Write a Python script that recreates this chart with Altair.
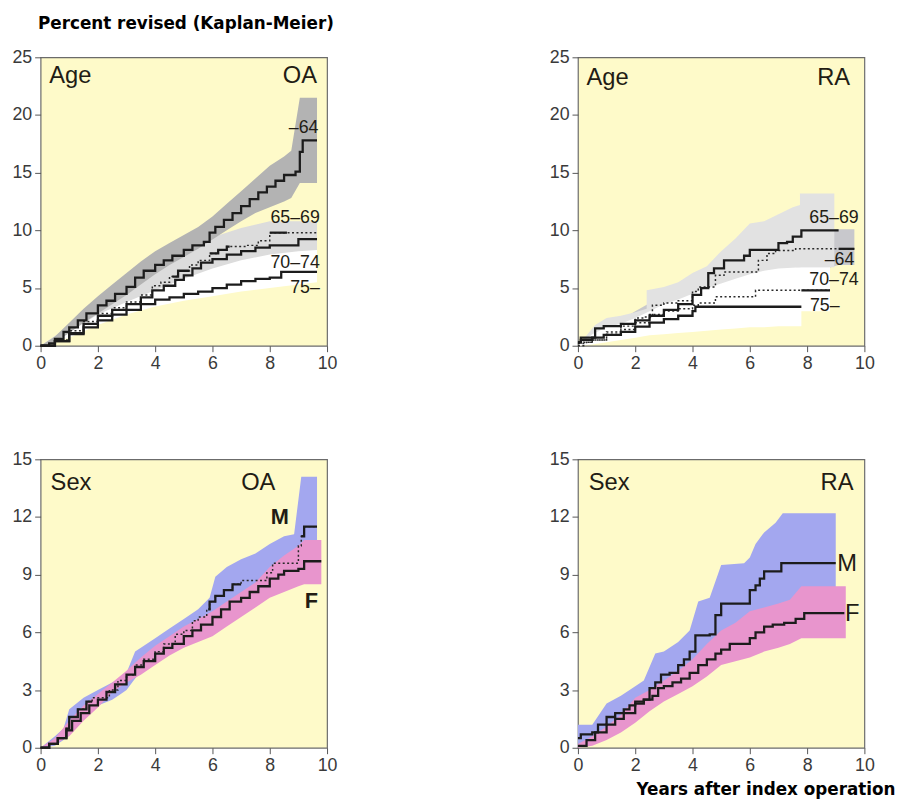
import altair as alt
import pandas as pd

# ---------------- Panel A : Age, OA ----------------
A_BAND64_X = [0, 0.5, 1, 1.5, 2, 2.5, 3, 3.5, 4, 4.5, 5, 5.5, 6, 6.5, 7, 7.5, 8, 8.5, 8.75, 9.05, 9.65]
A_BAND64_LO = [0, 0.3, 1.1, 2.0, 2.8, 3.6, 4.4, 5.3, 6.2, 7.0, 7.7, 8.4, 9.2, 10.0, 10.8, 11.5, 12.0, 12.5, 12.8, 14.1, 14.1]
A_BAND64_HI = [0, 0.8, 2.0, 3.2, 4.3, 5.3, 6.3, 7.3, 8.2, 8.9, 9.6, 10.3, 11.2, 12.3, 13.4, 14.5, 15.6, 16.4, 16.9, 21.5, 21.5]
A_BAND6569_X = [0, 1, 2, 3, 4, 5, 6, 7, 8, 9, 9.65]
A_BAND6569_LO = [0, 0.8, 2.2, 3.2, 4.2, 5.0, 5.8, 6.6, 7.2, 7.6, 7.8]
A_BAND6569_HI = [0, 1.7, 3.7, 5.3, 6.9, 8.3, 9.4, 10.2, 10.8, 10.8, 10.8]
A_BANDLOW_X = [0, 1, 2, 3, 4, 5, 6, 7, 8, 9, 9.65]
A_BANDLOW_LO = [0, 0.7, 1.8, 2.7, 3.4, 3.9, 4.3, 4.7, 5.0, 5.3, 5.5]
A_BANDLOW_HI = [0, 1.2, 2.7, 3.8, 4.8, 5.8, 6.7, 7.4, 7.9, 8.2, 8.3]

A_64_X = [0, 0.3, 0.5, 0.8, 1.0, 1.3, 1.6, 2.0, 2.3, 2.6, 3.0, 3.3, 3.6, 4.0, 4.3, 4.6, 5.0, 5.3, 5.7, 5.9, 6.1, 6.4, 6.7, 7.0, 7.3, 7.6, 7.9, 8.2, 8.5, 8.9, 9.05, 9.15, 9.65]
A_64_Y = [0, 0.2, 0.6, 1.2, 1.6, 2.2, 2.8, 3.5, 3.9, 4.5, 5.1, 5.9, 6.5, 7.0, 7.4, 7.8, 8.3, 8.7, 9.0, 9.8, 10.3, 10.9, 11.5, 12.1, 12.7, 13.3, 13.8, 14.3, 14.8, 15.1, 16.8, 17.8, 17.8]
A_6569_X = [0, 0.5, 1.0, 1.5, 2.0, 2.5, 3.0, 3.5, 3.9, 4.2, 4.5, 4.8, 5.2, 5.5, 5.9, 6.2, 6.5, 7.2, 7.6, 8.0, 9.65]
A_6569_Y = [0, 0.5, 1.3, 2.1, 2.8, 3.3, 3.8, 4.4, 5.2, 5.5, 6.0, 6.5, 7.0, 7.4, 8.0, 8.3, 8.6, 8.7, 9.1, 9.8, 9.8]
A_6569_SOLID = [[4.6, 5.2], [5.9, 6.6], [8.0, 8.6]]
A_7074_X = [0, 0.5, 1.0, 1.5, 2.0, 2.5, 3.0, 3.5, 3.9, 4.3, 4.7, 5.0, 5.3, 5.6, 6.0, 6.5, 7.0, 7.5, 8.0, 9.0, 9.65]
A_7074_Y = [0, 0.4, 1.1, 1.9, 2.6, 3.1, 3.6, 4.2, 4.8, 5.2, 5.7, 6.1, 6.7, 7.2, 7.5, 7.9, 8.2, 8.5, 8.7, 9.25, 9.25]
A_75_X = [0, 0.5, 1.0, 1.5, 2.0, 2.5, 3.0, 3.5, 4.0, 4.5, 5.0, 5.5, 6.0, 6.5, 7.0, 7.5, 8.0, 8.4, 9.65]
A_75_Y = [0, 0.4, 1.0, 1.6, 2.2, 2.7, 3.1, 3.6, 4.0, 4.2, 4.5, 4.7, 5.0, 5.3, 5.6, 5.8, 5.9, 6.4, 6.4]

# ---------------- Panel B : Age, RA ----------------
B_BAND64_X = [0, 2, 4, 6, 8, 9.1, 9.65]
B_BAND64_LO = [0, 1.2, 2.8, 4.8, 6.2, 7.0, 7.0]
B_BAND64_HI = [0, 3.0, 5.8, 8.8, 10.0, 10.1, 10.1]
B_BAND6569_X = [0, 0.6, 1, 1.5, 2, 2.4, 2.4, 3, 3.5, 4, 4.5, 5, 5.5, 6, 6.5, 7, 7.5, 7.75, 7.75, 8.95]
B_BAND6569_LO = [0, 0.5, 0.9, 1.3, 1.7, 2.0, 2.0, 2.6, 3.0, 3.5, 4.0, 4.5, 5.0, 5.5, 6.0, 6.4, 6.7, 6.8, 6.8, 6.8]
B_BAND6569_HI = [0, 1.8, 2.4, 2.6, 2.9, 3.2, 4.8, 5.1, 5.5, 6.3, 6.9, 8.2, 9.3, 10.6, 10.8, 11.4, 12.0, 12.2, 13.2, 13.2]
B_BANDLOW_X = [0, 0.5, 1, 1.5, 2, 2.5, 3, 3.5, 4, 4.5, 5, 5.5, 6, 6.5, 7, 7.8, 7.8, 8.8]
B_BANDLOW_LO = [0, 0.1, 0.3, 0.5, 0.7, 0.9, 1.0, 1.1, 1.2, 1.3, 1.4, 1.5, 1.6, 1.6, 1.7, 1.7, 3.0, 3.0]
B_BANDLOW_HI = [0, 1.0, 1.6, 1.9, 2.4, 3.0, 3.6, 4.0, 4.5, 5.0, 5.4, 5.8, 6.2, 6.5, 6.7, 6.8, 6.8, 6.8]

B_6569_X = [0, 0.1, 0.6, 0.9, 1.5, 2.0, 2.5, 3.0, 3.5, 4.0, 4.3, 4.55, 4.75, 5.1, 5.8, 6.0, 7.0, 7.3, 7.5, 7.8, 9.1]
B_6569_Y = [0.3, 0.7, 1.5, 1.7, 1.9, 2.2, 2.6, 3.1, 3.6, 4.4, 5.0, 6.3, 6.7, 7.4, 7.8, 8.3, 8.9, 9.0, 9.45, 10.0, 10.0]
B_64_X = [0, 0.3, 0.5, 1.0, 1.5, 2.0, 2.3, 2.6, 3.0, 3.5, 4.0, 4.2, 4.8, 5.1, 5.9, 6.3, 6.6, 6.9, 7.6, 9.65]
B_64_Y = [0.2, 0.3, 0.5, 1.2, 1.7, 2.4, 2.5, 3.5, 3.7, 3.9, 4.7, 5.1, 6.1, 6.4, 6.4, 7.4, 8.0, 8.25, 8.4, 8.4]
B_64_SOLID = [[9.1, 9.65]]
B_7074_X = [0, 0.2, 0.5, 1.0, 1.5, 2.0, 2.5, 3.0, 3.5, 4.0, 4.2, 4.8, 6.2, 8.8]
B_7074_Y = [0, 0.3, 0.5, 1.0, 1.4, 2.0, 2.7, 3.0, 3.2, 3.5, 3.7, 4.24, 4.8, 4.8]
B_7074_SOLID = [[7.8, 8.8]]
B_75_X = [0, 0.1, 0.5, 0.9, 1.5, 2.0, 2.5, 3.0, 3.5, 4.0, 4.1, 7.8]
B_75_Y = [0.3, 0.5, 0.7, 0.95, 1.2, 1.66, 2.0, 2.3, 2.6, 3.0, 3.38, 3.38]

# ---------------- Panel C : Sex, OA ----------------
C_BANDM_X = [0, 0.5, 0.8, 1, 1.5, 2, 2.5, 2.8, 3, 3.3, 3.5, 4, 4.5, 5, 5.5, 5.9, 6.1, 6.5, 7, 7.5, 8, 8.5, 8.85, 9.1, 9.65]
C_BANDM_LO = [0, 0.1, 0.4, 0.8, 1.5, 2.2, 2.5, 2.8, 3.0, 3.6, 4.0, 4.6, 5.1, 5.5, 6.0, 6.3, 6.5, 6.9, 7.4, 7.8, 8.2, 8.6, 8.9, 10.0, 10.0]
C_BANDM_HI = [0, 0.6, 1.0, 2.0, 2.6, 3.0, 3.4, 3.6, 3.9, 5.0, 5.2, 5.7, 6.2, 6.7, 7.2, 7.8, 8.9, 9.4, 9.8, 10.1, 10.6, 11.0, 11.1, 14.1, 14.1]
C_BANDF_X = [0, 0.5, 1, 1.5, 2, 2.5, 3, 3.5, 4, 4.5, 5, 5.5, 6, 6.5, 7, 7.5, 8, 8.5, 9, 9.2, 9.8]
C_BANDF_LO = [0, 0.2, 0.6, 1.4, 2.1, 2.9, 3.4, 3.8, 4.3, 4.8, 5.2, 5.5, 5.8, 6.3, 6.8, 7.3, 7.8, 8.1, 8.4, 8.5, 8.5]
C_BANDF_HI = [0, 0.5, 1.4, 2.2, 2.8, 3.4, 4.0, 4.7, 5.3, 5.8, 6.3, 6.7, 7.1, 7.6, 8.1, 8.6, 9.4, 10.0, 10.5, 10.8, 10.8]

C_F_X = [0, 0.3, 0.6, 0.9, 1.1, 1.4, 1.7, 2.0, 2.3, 2.6, 3.0, 3.3, 3.6, 4.0, 4.3, 4.6, 5.0, 5.3, 5.6, 6.0, 6.3, 6.6, 7.0, 7.3, 7.6, 8.0, 8.3, 8.5, 9.0, 9.2, 9.8]
C_F_Y = [0, 0.2, 0.5, 0.9, 1.4, 1.8, 2.2, 2.5, 2.9, 3.3, 3.8, 4.2, 4.5, 4.9, 5.2, 5.4, 5.8, 6.1, 6.4, 6.8, 7.2, 7.6, 7.8, 8.1, 8.4, 8.8, 9.0, 9.2, 9.3, 9.7, 9.7]
C_M_X = [0, 0.3, 0.6, 0.9, 1.0, 1.3, 1.6, 1.8, 2.4, 2.7, 3.0, 3.3, 3.6, 4.0, 4.3, 4.7, 5.0, 5.3, 5.5, 5.8, 5.9, 6.1, 6.4, 6.7, 7.0, 7.9, 8.1, 8.8, 9.0, 9.1, 9.2, 9.65]
C_M_Y = [0, 0.2, 0.5, 1.0, 1.6, 2.0, 2.4, 2.6, 3.0, 3.5, 3.8, 4.3, 4.6, 5.0, 5.4, 5.9, 6.1, 6.6, 6.8, 7.2, 7.6, 7.9, 8.2, 8.5, 8.7, 9.1, 9.6, 9.6, 10.5, 11.0, 11.5, 11.5]
C_M_SOLID = [[0, 1.8], [5.85, 7.0], [9.1, 9.65]]

# ---------------- Panel D : Sex, RA ----------------
D_BANDM_X = [0, 0.5, 1, 1.5, 2, 2.3, 2.7, 3, 3.5, 3.9, 4.2, 4.6, 5.0, 5.8, 6.0, 6.2, 6.5, 6.9, 7.15, 9.0]
D_BANDM_LO = [0.2, 0.4, 0.8, 1.1, 1.4, 1.7, 2.3, 2.7, 3.2, 3.5, 3.8, 4.2, 4.6, 5.4, 5.6, 5.8, 6.0, 6.3, 6.5, 7.5]
D_BANDM_HI = [1.2, 1.2, 2.3, 2.7, 3.2, 3.5, 4.9, 5.0, 5.5, 6.1, 7.6, 7.8, 9.5, 9.6, 9.9, 10.6, 11.2, 11.7, 12.2, 12.2]
D_BANDF_X = [0, 0.5, 1, 1.5, 2, 2.5, 3, 3.5, 4, 4.5, 5, 5.5, 6, 6.5, 7, 7.4, 7.8, 9.35]
D_BANDF_LO = [0, 0.1, 0.4, 0.8, 1.3, 1.9, 2.4, 2.8, 3.2, 3.7, 4.3, 4.5, 4.7, 5.0, 5.2, 5.4, 5.7, 5.7]
D_BANDF_HI = [0.2, 0.6, 1.1, 1.7, 2.6, 3.0, 3.5, 4.0, 4.6, 5.4, 6.1, 6.5, 7.1, 7.3, 7.5, 7.7, 8.4, 8.4]

D_M_X = [0, 0.1, 0.5, 0.7, 1.0, 1.3, 1.6, 1.8, 2.0, 2.3, 2.5, 2.7, 2.9, 3.2, 3.5, 3.7, 3.9, 4.1, 4.6, 4.8, 5.0, 6.0, 6.2, 6.35, 6.5, 7.1, 9.0]
D_M_Y = [0.5, 0.7, 0.8, 1.2, 1.6, 1.8, 2.0, 2.2, 2.4, 2.5, 3.1, 3.4, 3.8, 3.9, 4.3, 4.6, 5.0, 5.85, 5.9, 6.9, 7.5, 8.2, 8.45, 8.8, 9.17, 9.6, 9.6]
D_F_X = [0, 0.3, 0.6, 1.0, 1.3, 1.6, 2.0, 2.3, 2.6, 2.8, 3.0, 3.3, 3.6, 3.9, 4.2, 4.5, 4.8, 5.0, 5.3, 6.0, 6.2, 6.5, 6.8, 7.2, 7.6, 7.9, 9.3]
D_F_Y = [0.1, 0.4, 0.8, 1.2, 1.5, 1.8, 2.3, 2.5, 2.7, 3.1, 3.2, 3.4, 3.6, 3.9, 4.3, 4.6, 4.9, 5.1, 5.4, 5.7, 6.0, 6.3, 6.4, 6.5, 6.7, 7.0, 7.0]

# ---------------- text ----------------
X_TICKS = [0, 2, 4, 6, 8, 10]
Y_TICKS_AGE = [0, 5, 10, 15, 20, 25]
Y_TICKS_SEX = [0, 3, 6, 9, 12, 15]
TITLE_Y = "Percent revised (Kaplan-Meier)"
TITLE_X = "Years after index operation"

# ---------------- styling ----------------
BG = "#fefac9"
INK = "#221c14"
LINE = "#1c1c1c"
FONT = "Liberation Sans"
W, H = 290, 292


def step_at(xs, ys, x):
    v = ys[0]
    for xi, yi in zip(xs, ys):
        if xi <= x:
            v = yi
    return v


def clip(xs, ys, a, b):
    cx, cy = [a], [step_at(xs, ys, a)]
    for xi, yi in zip(xs, ys):
        if a < xi < b:
            cx.append(xi)
            cy.append(yi)
    cx.append(b)
    cy.append(cy[-1])
    return cx, cy


def panel(ymax, yticks, bands, solids, dotted, texts, xtitle=None):
    xs = alt.Scale(domain=[0, 10], nice=False)
    ys = alt.Scale(domain=[0, ymax], nice=False)
    xkw = dict(values=X_TICKS, grid=False, domain=False, tickSize=6, tickColor="#555",
               labelFontSize=18, labelFont=FONT, labelColor="#3a3a3a", labelPadding=3,
               labelFlush=False)
    if xtitle:
        xaxis = alt.Axis(title=xtitle, titleFont="DejaVu Sans", titleFontWeight="bold",
                         titleFontSize=17, titleColor="black", titleAlign="right",
                         titleAnchor="end", titleX=W + 31, titleY=47,
                         titleBaseline="alphabetic", **xkw)
    else:
        xaxis = alt.Axis(title=None, **xkw)
    yaxis = alt.Axis(values=yticks, title=None, grid=False, domain=False, tickSize=6,
                     tickColor="#555", labelFontSize=18, labelFont=FONT,
                     labelColor="#3a3a3a", labelPadding=3)
    X = lambda f: alt.X(f, scale=xs, axis=xaxis)
    Y = lambda f: alt.Y(f, scale=ys, axis=yaxis)
    layers = []
    for bx, lo, hi, col in bands:
        df = pd.DataFrame({"x": bx, "lo": lo, "hi": hi})
        layers.append(alt.Chart(df).mark_area(color=col, opacity=1, interpolate="linear")
                      .encode(x=X("x:Q"), y=Y("lo:Q"), y2="hi:Q"))
    for lx, ly in dotted:
        df = pd.DataFrame({"x": lx, "y": ly})
        layers.append(alt.Chart(df).mark_line(interpolate="step-after", color="#2a2a2a",
                                              strokeWidth=1.5, strokeDash=[2, 2.5])
                      .encode(x=X("x:Q"), y=Y("y:Q")))
    for lx, ly in solids:
        df = pd.DataFrame({"x": lx, "y": ly})
        layers.append(alt.Chart(df).mark_line(interpolate="step-after", color=LINE,
                                              strokeWidth=2.3)
                      .encode(x=X("x:Q"), y=Y("y:Q")))
    for t, tx, ty, align, size, weight in texts:
        df = pd.DataFrame({"x": [tx], "y": [ty], "t": [t]})
        layers.append(alt.Chart(df).mark_text(align=align, baseline="middle", font=FONT,
                                              fontSize=size, fontWeight=weight, color=INK)
                      .encode(x=X("x:Q"), y=Y("y:Q"), text="t:N"))
    return alt.layer(*layers).properties(width=W, height=H)


def segs(xs, ys, ranges):
    return [clip(xs, ys, a, b) for a, b in ranges]


pA = panel(
    25, Y_TICKS_AGE,
    [(A_BAND6569_X, A_BAND6569_LO, A_BAND6569_HI, "#dcdcdc"),
     (A_BANDLOW_X, A_BANDLOW_LO, A_BANDLOW_HI, "#ffffff"),
     (A_BAND64_X, A_BAND64_LO, A_BAND64_HI, "#b3b3b3")],
    [(A_64_X, A_64_Y), (A_7074_X, A_7074_Y), (A_75_X, A_75_Y)] + segs(A_6569_X, A_6569_Y, A_6569_SOLID),
    [(A_6569_X, A_6569_Y)],
    [("Age", 0.3, 23.4, "left", 24, "normal"), ("OA", 9.65, 23.4, "right", 24, "normal"),
     ("\u201364", 9.7, 18.9, "right", 18, "normal"), ("65\u201369", 9.75, 11.1, "right", 18, "normal"),
     ("70\u201374", 9.75, 7.2, "right", 18, "normal"), ("75\u2013", 9.75, 5.0, "right", 18, "normal")],
)

pB = panel(
    25, Y_TICKS_AGE,
    [(B_BAND64_X, B_BAND64_LO, B_BAND64_HI, "#c8c8cc"),
     (B_BAND6569_X, B_BAND6569_LO, B_BAND6569_HI, "#e2e2e2"),
     (B_BANDLOW_X, B_BANDLOW_LO, B_BANDLOW_HI, "#ffffff")],
    [(B_6569_X, B_6569_Y), (B_75_X, B_75_Y)] + segs(B_64_X, B_64_Y, B_64_SOLID)
    + segs(B_7074_X, B_7074_Y, B_7074_SOLID),
    [(B_64_X, B_64_Y), (B_7074_X, B_7074_Y)],
    [("Age", 0.3, 23.2, "left", 24, "normal"), ("RA", 9.5, 23.2, "right", 24, "normal"),
     ("65\u201369", 9.8, 11.1, "right", 18, "normal"), ("\u201364", 9.65, 7.4, "right", 18, "normal"),
     ("70\u201374", 9.8, 5.7, "right", 18, "normal"), ("75\u2013", 8.1, 3.4, "left", 18, "normal")],
)

pC = panel(
    15, Y_TICKS_SEX,
    [(C_BANDM_X, C_BANDM_LO, C_BANDM_HI, "#a3a7ef"),
     (C_BANDF_X, C_BANDF_LO, C_BANDF_HI, "#e895cd")],
    [(C_F_X, C_F_Y)] + segs(C_M_X, C_M_Y, C_M_SOLID),
    [(C_M_X, C_M_Y)],
    [("Sex", 0.35, 13.75, "left", 24, "normal"), ("OA", 7.6, 13.75, "center", 24, "normal"),
     ("M", 8.35, 12.0, "center", 22, "bold"), ("F", 9.45, 7.65, "center", 22, "bold")],
)

pD = panel(
    15, Y_TICKS_SEX,
    [(D_BANDM_X, D_BANDM_LO, D_BANDM_HI, "#a3a7ef"),
     (D_BANDF_X, D_BANDF_LO, D_BANDF_HI, "#e895cd")],
    [(D_M_X, D_M_Y), (D_F_X, D_F_Y)],
    [],
    [("Sex", 0.38, 13.76, "left", 24, "normal"), ("RA", 9.62, 13.76, "right", 24, "normal"),
     ("M", 9.05, 9.55, "left", 24, "normal"), ("F", 9.32, 6.95, "left", 24, "normal")],
    xtitle=TITLE_X,
)

top = alt.hconcat(pA, pB, spacing=213)
bottom = alt.hconcat(pC, pD, spacing=213)
chart = (
    alt.vconcat(top, bottom, spacing=77)
    .properties(
        title=alt.TitleParams(TITLE_Y, anchor="start", frame="bounds", font="DejaVu Sans",
                              fontSize=17, fontWeight="bold", color="black", offset=15, dx=27),
        padding={"left": 3, "top": 2, "right": 0, "bottom": 0},
    )
    .configure_view(fill=BG, stroke="#6b6b6b", strokeWidth=1.2)
)

chart.save("out.html", embed_options={"renderer": "svg", "actions": False})
